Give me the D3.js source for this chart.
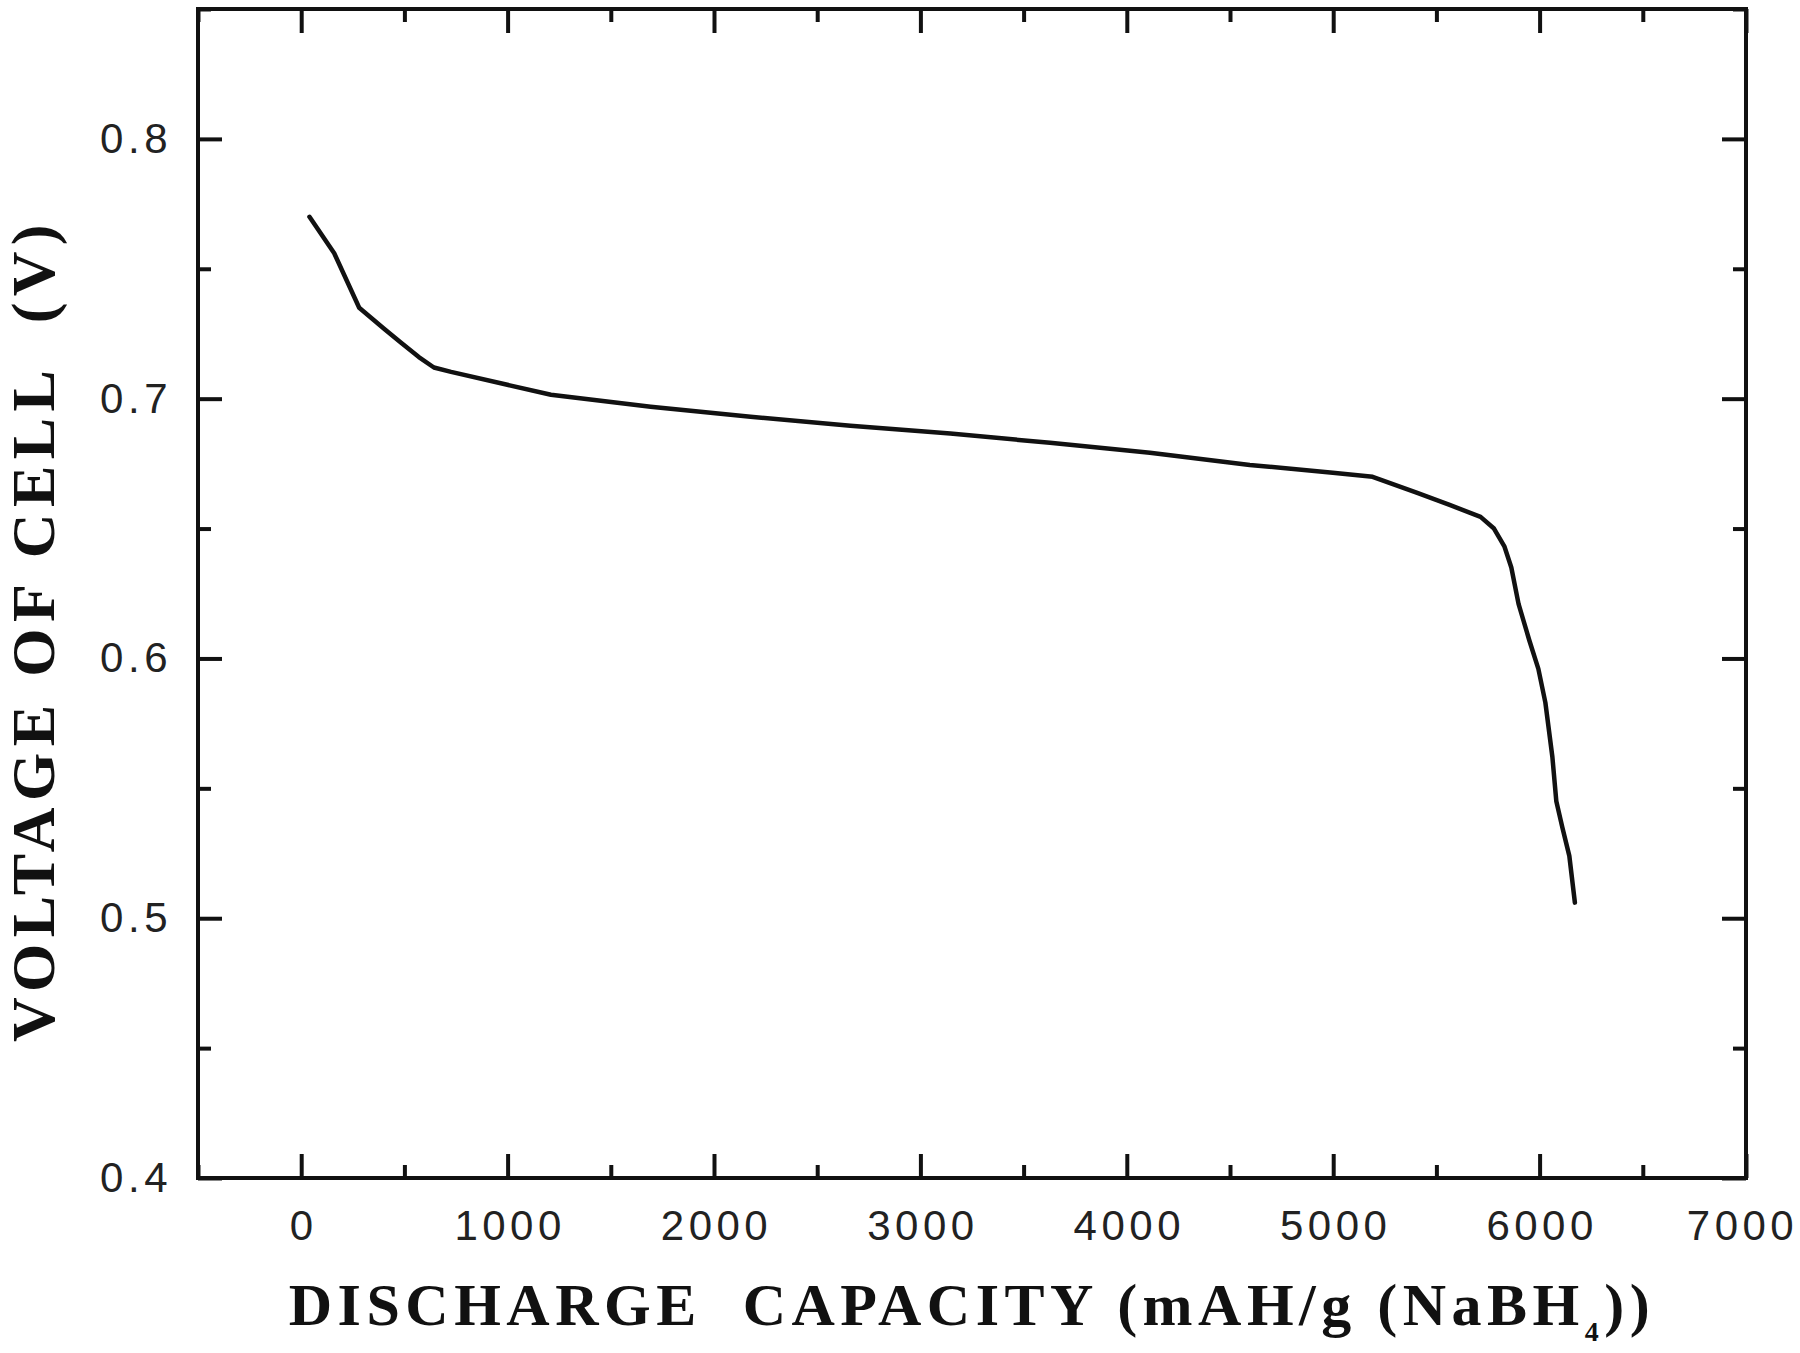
<!DOCTYPE html>
<html>
<head>
<meta charset="utf-8">
<script src="https://cdn.jsdelivr.net/npm/d3@7"></script>
<style>
  body { margin: 0; background: #fff; }
  .tick-label { font-family: "Liberation Sans", Arial, sans-serif; font-size: 42px; letter-spacing: 4.5px; fill: #222; }
  .axis-title { font-family: "Liberation Serif", "Times New Roman", serif; font-weight: bold; font-size: 60px; letter-spacing: 5.5px; fill: #111; }
</style>
</head>
<body>
<div id="chart"></div>
<script>
// Discharge curve
const capacity = [40, 160, 281, 400, 484, 570, 643, 726, 1210, 1693, 2177, 2661, 3145, 3628, 4112, 4596,
                  4998, 5191, 5404, 5564, 5714, 5779, 5830, 5863, 5898, 5950, 5994, 6028, 6062, 6081, 6110, 6144, 6171];
const voltage  = [0.770, 0.756, 0.735, 0.727, 0.7215, 0.716, 0.712, 0.7103, 0.7015, 0.6969, 0.6930, 0.6896, 0.6866, 0.6830, 0.6792, 0.6745,
                  0.6715, 0.6699, 0.6638, 0.6591, 0.6545, 0.650, 0.643, 0.635, 0.621, 0.607, 0.596, 0.583, 0.562, 0.545, 0.535, 0.524, 0.506];

const xMajor = [0, 1000, 2000, 3000, 4000, 5000, 6000, 7000];
const xMinor = [-500, 500, 1500, 2500, 3500, 4500, 5500, 6500];
const yMajor = [0.4, 0.5, 0.6, 0.7, 0.8];
const yMinor = [0.45, 0.55, 0.65, 0.75, 0.85];

const W = 1800, H = 1353;
const margin = { top: 9, right: 54, bottom: 175, left: 198 };
const width = W - margin.left - margin.right;
const height = H - margin.top - margin.bottom;

const svg = d3.select("#chart")
    .append("svg")
    .attr("width", W)
    .attr("height", H);

const g = svg.append("g")
    .attr("transform", `translate(${margin.left},${margin.top})`);

const x = d3.scaleLinear().domain([-500, 7000]).range([0, width]);
const y = d3.scaleLinear().domain([0.4, 0.85]).range([height, 0]);

const majorLen = 24, minorLen = 13;
const ink = "#111";

function styleAxis(sel) {
    sel.select(".domain").remove();
    sel.selectAll(".tick line").attr("stroke", ink).attr("stroke-width", 4);
}

// bottom axis with labels
g.append("g")
    .attr("transform", `translate(0,${height})`)
    .call(d3.axisBottom(x).tickValues(xMajor).tickSize(-majorLen).tickPadding(32).tickFormat(d3.format("d")))
    .call(styleAxis)
    .selectAll("text")
    .attr("class", "tick-label")
    .attr("dx", d => d === 7000 ? "-4px" : "2px")
    .attr("font-size", null).attr("font-family", null).attr("fill", null);

g.append("g")
    .attr("transform", `translate(0,${height})`)
    .call(d3.axisBottom(x).tickValues(xMinor).tickSize(-minorLen).tickFormat(""))
    .call(styleAxis);

// top axis, ticks only
g.append("g")
    .call(d3.axisTop(x).tickValues(xMajor).tickSize(-majorLen).tickFormat(""))
    .call(styleAxis);
g.append("g")
    .call(d3.axisTop(x).tickValues(xMinor).tickSize(-minorLen).tickFormat(""))
    .call(styleAxis);

// left axis with labels
g.append("g")
    .call(d3.axisLeft(y).tickValues(yMajor).tickSize(-majorLen).tickPadding(26).tickFormat(d3.format(".1f")))
    .call(styleAxis)
    .selectAll("text")
    .attr("class", "tick-label")
    .attr("font-size", null).attr("font-family", null).attr("fill", null);

g.append("g")
    .call(d3.axisLeft(y).tickValues(yMinor).tickSize(-minorLen).tickFormat(""))
    .call(styleAxis);

// right axis, ticks only
g.append("g")
    .attr("transform", `translate(${width},0)`)
    .call(d3.axisRight(y).tickValues(yMajor).tickSize(-majorLen).tickFormat(""))
    .call(styleAxis);
g.append("g")
    .attr("transform", `translate(${width},0)`)
    .call(d3.axisRight(y).tickValues(yMinor).tickSize(-minorLen).tickFormat(""))
    .call(styleAxis);

// frame
g.append("rect")
    .attr("width", width)
    .attr("height", height)
    .attr("fill", "none")
    .attr("stroke", ink)
    .attr("stroke-width", 4);

// curve
const line = d3.line()
    .x(i => x(capacity[i]))
    .y(i => y(voltage[i]));

g.append("path")
    .datum(d3.range(capacity.length))
    .attr("d", line)
    .attr("fill", "none")
    .attr("stroke", ink)
    .attr("stroke-width", 4.5)
    .attr("stroke-linejoin", "round")
    .attr("stroke-linecap", "round");

// axis titles
const xt = svg.append("text")
    .attr("class", "axis-title")
    .attr("x", 972)
    .attr("y", 1325)
    .attr("text-anchor", "middle")
    .attr("xml:space", "preserve");
xt.append("tspan").text("DISCHARGE  CAPACITY (mAH/g (NaBH");
xt.append("tspan").style("font-size", "28px").attr("dy", 16).text("4");
xt.append("tspan").attr("dy", -16).text("))");

svg.append("text")
    .attr("class", "axis-title")
    .attr("transform", "translate(54,630) rotate(-90)")
    .attr("text-anchor", "middle")
    .style("font-size", "62px")
    .style("letter-spacing", "6.4px")
    .attr("xml:space", "preserve")
    .text("VOLTAGE OF CELL  (V)");
</script>
</body>
</html>
